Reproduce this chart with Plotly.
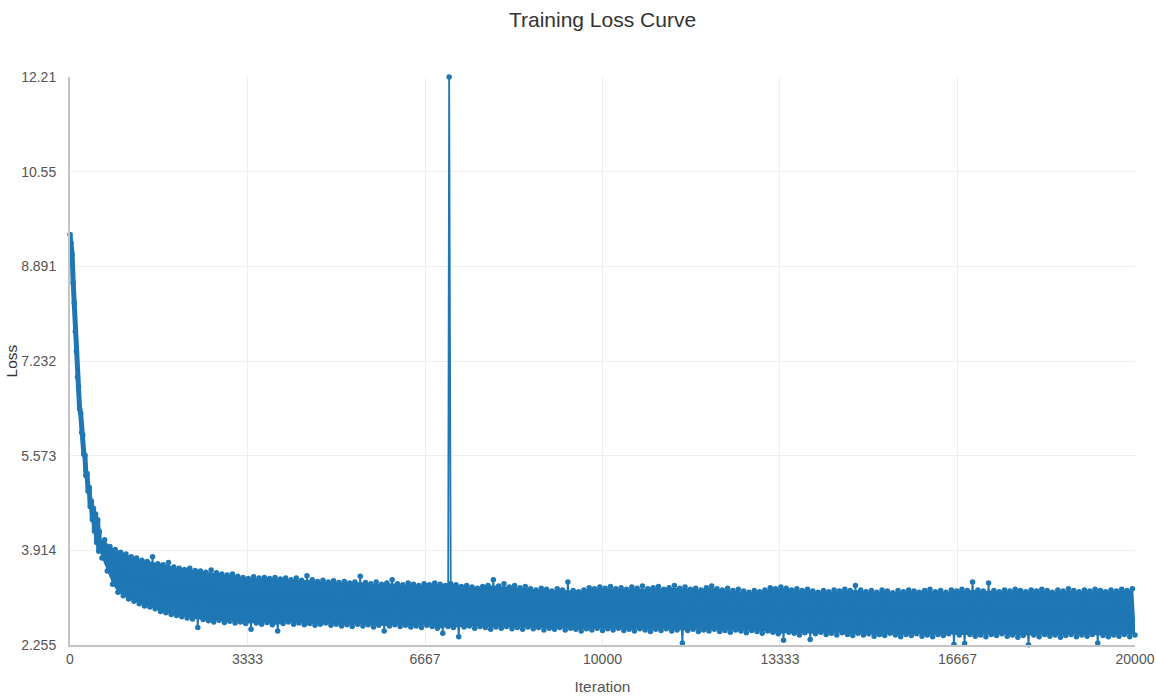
import plotly.graph_objects as go

# ---- data ----
# early, steep part of the curve (iteration, loss)
early_iter = [0, 20, 40, 60, 80, 100, 120, 140, 160, 180, 200, 220, 240, 260, 280,
              300, 320, 340, 360, 380, 400, 420, 440, 460, 480, 500, 520, 540]
early_loss = [9.45, 9.30, 9.10, 8.60, 8.25, 7.75, 7.40, 6.95, 6.78, 6.40, 6.32, 5.98,
              5.93, 5.60, 5.58, 5.22, 5.26, 4.95, 5.02, 4.68, 4.78, 4.45, 4.65, 4.25,
              4.55, 4.05, 4.45, 3.90]

# noisy band after iteration 550: upper and lower edges every 100 iterations
band_start = 550
band_step = 100
band_upper = [
    4.25, 4.10, 3.98, 3.93, 3.88, 3.85, 3.80, 3.78, 3.74, 3.72,
    3.80, 3.68, 3.66, 3.70, 3.62, 3.60, 3.58, 3.60, 3.56, 3.55,
    3.53, 3.57, 3.52, 3.50, 3.48, 3.50, 3.46, 3.44, 3.42, 3.45,
    3.43, 3.44, 3.42, 3.44, 3.41, 3.43, 3.40, 3.43, 3.39, 3.47,
    3.40, 3.37, 3.39, 3.36, 3.38, 3.35, 3.37, 3.34, 3.36, 3.46,
    3.35, 3.33, 3.36, 3.32, 3.34, 3.40, 3.33, 3.31, 3.34, 3.32,
    3.30, 3.33, 3.31, 3.34, 3.32, 3.30, 3.33, 3.31, 3.28, 3.30,
    3.27, 3.25, 3.28, 3.30, 3.40, 3.29, 3.33, 3.27, 3.30, 3.26,
    3.28, 3.24, 3.22, 3.25, 3.23, 3.20, 3.24, 3.22, 3.36, 3.21,
    3.19, 3.22, 3.26, 3.24, 3.27, 3.25, 3.28, 3.24, 3.26, 3.23,
    3.27, 3.25, 3.29, 3.24, 3.26, 3.28, 3.23, 3.26, 3.30, 3.25,
    3.27, 3.23, 3.25, 3.22, 3.26, 3.29, 3.24, 3.22, 3.25, 3.21,
    3.23, 3.20, 3.18, 3.21, 3.19, 3.22, 3.26, 3.24, 3.27, 3.25,
    3.22, 3.24, 3.21, 3.23, 3.20, 3.18, 3.21, 3.19, 3.22, 3.20,
    3.23, 3.21, 3.30, 3.22, 3.19, 3.21, 3.18, 3.22, 3.20, 3.17,
    3.21, 3.19, 3.22, 3.20, 3.18, 3.21, 3.23, 3.19, 3.21, 3.18,
    3.22, 3.20, 3.23, 3.21, 3.36, 3.22, 3.20, 3.34, 3.21, 3.19,
    3.22, 3.20, 3.23, 3.21, 3.19, 3.22, 3.20, 3.23, 3.21, 3.18,
    3.22, 3.20, 3.24, 3.21, 3.19, 3.22, 3.20, 3.23, 3.21, 3.19,
    3.22, 3.20, 3.23, 3.21, 3.24,
]
band_lower = [
    3.78, 3.55, 3.32, 3.18, 3.12, 3.06, 3.02, 2.98, 2.94, 2.92,
    2.89, 2.84, 2.82, 2.79, 2.77, 2.75, 2.73, 2.71, 2.56, 2.70,
    2.68, 2.66, 2.69, 2.65, 2.67, 2.64, 2.66, 2.63, 2.53, 2.64,
    2.62, 2.65, 2.61, 2.50, 2.63, 2.66, 2.62, 2.64, 2.61, 2.63,
    2.60, 2.62, 2.64, 2.60, 2.62, 2.59, 2.61, 2.58, 2.62, 2.59,
    2.61, 2.57, 2.60, 2.50, 2.59, 2.61, 2.58, 2.60, 2.57, 2.59,
    2.56, 2.60, 2.58, 2.55, 2.46, 2.58, 2.56, 2.40, 2.57, 2.59,
    2.55, 2.58, 2.56, 2.53, 2.57, 2.55, 2.58, 2.54, 2.56, 2.53,
    2.57, 2.54, 2.56, 2.52, 2.55, 2.53, 2.56, 2.52, 2.55, 2.53,
    2.50, 2.54, 2.52, 2.55, 2.51, 2.54, 2.52, 2.55, 2.51, 2.53,
    2.50, 2.54, 2.52, 2.49, 2.53, 2.51, 2.54, 2.50, 2.52, 2.29,
    2.51, 2.53, 2.49, 2.52, 2.50, 2.53, 2.49, 2.51, 2.48, 2.52,
    2.50, 2.47, 2.51, 2.49, 2.46, 2.50, 2.48, 2.45, 2.34, 2.48,
    2.46, 2.43, 2.47, 2.35, 2.45, 2.48, 2.44, 2.46, 2.43, 2.47,
    2.44, 2.42, 2.46, 2.43, 2.45, 2.41, 2.44, 2.42, 2.46, 2.43,
    2.40, 2.44, 2.42, 2.45, 2.41, 2.43, 2.40, 2.44, 2.42, 2.45,
    2.27, 2.43, 2.28, 2.44, 2.41, 2.43, 2.40, 2.44, 2.42, 2.45,
    2.41, 2.43, 2.39, 2.42, 2.26, 2.43, 2.40, 2.44, 2.41, 2.43,
    2.39, 2.42, 2.44, 2.40, 2.43, 2.41, 2.44, 2.29, 2.42, 2.40,
    2.43, 2.41, 2.44, 2.40, 2.43,
]

# isolated loss spike
spike_iter = [7120]
spike_loss = [12.21]

# axis ticks
x_ticks = [0, 3333, 6667, 10000, 13333, 16667, 20000]
y_ticks = [2.255, 3.914, 5.573, 7.232, 8.891, 10.55, 12.21]
y_tick_text = ["2.255", "3.914", "5.573", "7.232", "8.891", "10.55", "12.21"]

# ---- assemble one iteration-ordered series ----
band_iter_up = [band_start + k * band_step for k in range(len(band_upper))]
band_iter_lo = [it + band_step // 2 for it in band_iter_up]

points = list(zip(early_iter, early_loss))
points += list(zip(band_iter_up, band_upper))
points += list(zip(band_iter_lo, band_lower))
points += list(zip(spike_iter, spike_loss))
points.sort(key=lambda p: p[0])
xs = [p[0] for p in points]
ys = [p[1] for p in points]

# body of the dense band (edges without the isolated outliers), used as a fill
def trimmed(vals, upper):
    out = []
    for i, v in enumerate(vals):
        nb = [vals[j] for j in (i - 1, i + 1) if 0 <= j < len(vals)]
        out.append(min(v, max(nb)) if upper else max(v, min(nb)))
    return out

body_up = trimmed(band_upper, True)
body_lo = trimmed(band_lower, False)

blue = "#1f77b4"
fig = go.Figure()
fig.add_trace(go.Scatter(
    x=band_iter_lo, y=body_lo, mode="lines",
    line=dict(color=blue, width=0), hoverinfo="skip", showlegend=False,
))
fig.add_trace(go.Scatter(
    x=band_iter_up, y=body_up, mode="lines", fill="tonexty",
    fillcolor=blue, line=dict(color=blue, width=0), hoverinfo="skip", showlegend=False,
))
# dense early iterations render as a thick stroke
fig.add_trace(go.Scatter(
    x=early_iter + [band_iter_up[0]], y=early_loss + [band_upper[0]], mode="lines",
    line=dict(color=blue, width=5), hoverinfo="skip", showlegend=False,
))
fig.add_trace(go.Scatter(
    x=xs, y=ys, mode="lines+markers",
    line=dict(color=blue, width=1.8),
    marker=dict(color=blue, size=5.5),
    cliponaxis=False,
    name="Loss",
))

font_family = "Liberation Sans, Arial, Helvetica, sans-serif"
fig.update_layout(
    width=1156, height=696,
    paper_bgcolor="white", plot_bgcolor="white",
    margin=dict(l=70, r=21, t=77, b=51),
    showlegend=False,
    title=dict(text="Training Loss Curve", x=0.5, xref="paper", y=0.9713, yanchor="middle",
               font=dict(family=font_family, size=21, color="#333333")),
    font=dict(family=font_family, color="#555555", size=14),
)
fig.update_xaxes(
    range=[0, 20000], tickvals=x_ticks, ticktext=[str(v) for v in x_ticks],
    showgrid=True, gridcolor="#eeeeee", gridwidth=1,
    showline=True, linecolor="#c4c4c4", linewidth=2,
    zeroline=False, ticks="", automargin=False,
    title=dict(text="Iteration", font=dict(size=15.5, color="#555555"), standoff=15),
    tickfont=dict(size=14, color="#555555"),
)
fig.update_yaxes(
    range=[2.255, 12.21], tickvals=y_ticks, ticktext=y_tick_text,
    showgrid=True, gridcolor="#eeeeee", gridwidth=1,
    showline=True, linecolor="#c4c4c4", linewidth=2,
    zeroline=False, ticks="", ticklabelstandoff=9, automargin=False,
    title=dict(text="Loss", font=dict(size=15.5, color="#333333"), standoff=0),
    tickfont=dict(size=14, color="#555555"),
)

fig.write_html("out.html", config={"displayModeBar": False},
               post_script="document.body.style.margin='0';")
